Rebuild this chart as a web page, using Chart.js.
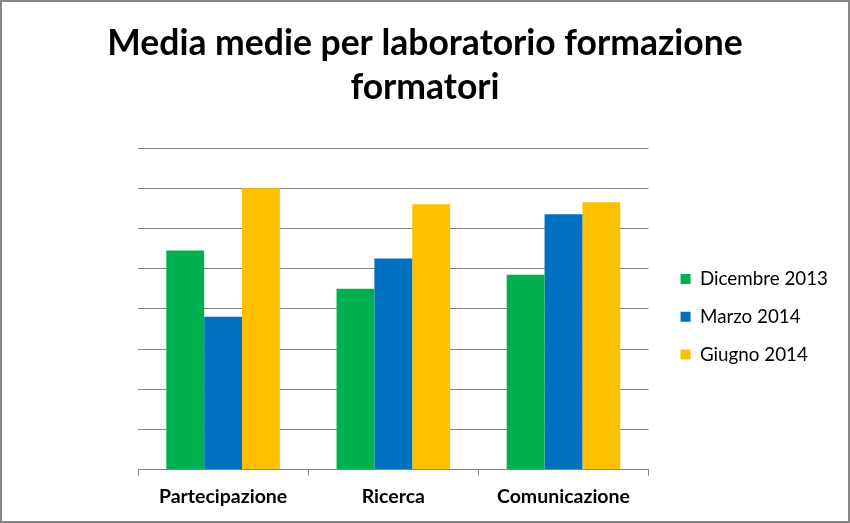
<!DOCTYPE html>
<html>
<head>
<meta charset="utf-8">
<script src="https://cdn.jsdelivr.net/npm/chart.js@4.4.0/dist/chart.umd.min.js"></script>
<style>
  body { margin: 0; background: #fff; }
  canvas { display: block; }
</style>
</head>
<body>
<canvas id="media-chart" width="850" height="523"></canvas>
<script>
// values (gridline step = 1, no axis labels shown)
const categories = ["Partecipazione", "Ricerca", "Comunicazione"];
const seriesLabels = ["Dicembre 2013", "Marzo 2014", "Giugno 2014"];
const dicembre2013 = [5.45, 4.5, 4.85];
const marzo2014 = [3.8, 5.25, 6.35];
const giugno2014 = [7.0, 6.6, 6.65];

const COLORS = ["#00B050", "#0070C0", "#FFC000"];
const FONT = "Lato, 'Noto Sans', sans-serif";
const GRID = "#868686";

// grey frame round the whole picture
const frame = {
  id: "frame",
  afterDraw(chart) {
    const ctx = chart.ctx;
    ctx.save();
    ctx.strokeStyle = GRID;
    ctx.lineWidth = 3;
    ctx.strokeRect(0.5, 0.5, chart.width - 1, chart.height - 1);
    ctx.restore();
  },
};

const chart = new Chart("media-chart", {
  type: "bar",
  data: {
    labels: categories,
    datasets: [dicembre2013, marzo2014, giugno2014].map((data, i) => ({
      label: seriesLabels[i],
      data: data,
      backgroundColor: COLORS[i],
      borderWidth: 0,
      barPercentage: 1,
      categoryPercentage: 0.667,
    })),
  },
  options: {
    responsive: false,
    animation: false,
    layout: { padding: { left: 12, right: 12, top: 0, bottom: 6 } },
    plugins: {
      title: {
        display: true,
        text: ["Media medie per laboratorio formazione", "formatori"],
        color: "#000",
        font: { family: FONT, size: 35.5, weight: "bold", lineHeight: 1.24 },
        padding: { top: 21.5, bottom: 38.5 },
      },
      legend: {
        position: "right",
        fullSize: false,
        maxWidth: 260,
        // blank title only pushes the items a little lower
        title: { display: true, text: " ", padding: 0, font: { size: 13.3 } },
        labels: {
          color: "#000",
          font: { family: FONT, size: 18.8 },
          boxWidth: 10,
          boxHeight: 10,
          padding: 19,
        },
      },
      tooltip: { enabled: false },
    },
    scales: {
      x: {
        grid: { offset: true, drawOnChartArea: false, color: GRID, tickLength: 6 },
        border: { color: GRID },
        ticks: { color: "#000", font: { family: FONT, size: 19.5, weight: "bold" }, padding: 9 },
      },
      y: {
        min: 0,
        max: 8,
        ticks: { display: false, stepSize: 1 },
        grid: { color: GRID, drawTicks: false },
        border: { display: false },
        afterFit: (scale) => { scale.width = 126; },
      },
      // empty axis, only keeps a gap between the plot and the legend
      gap: {
        position: "right",
        ticks: { display: false },
        grid: { display: false },
        border: { display: false },
        afterFit: (scale) => { scale.width = 13; },
      },
    },
  },
  plugins: [frame],
});
</script>
</body>
</html>
